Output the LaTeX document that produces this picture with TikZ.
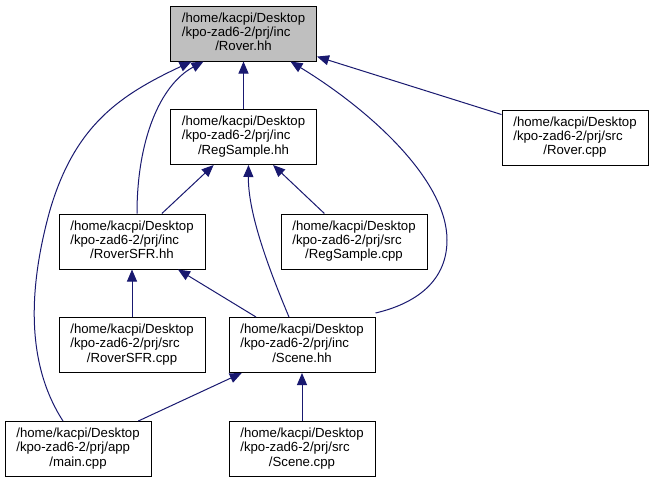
\documentclass[tikz,border=0pt]{standalone}
\usepackage{fontspec}
\setmainfont{Liberation Sans}
\usepackage{tikz}
\usetikzlibrary{arrows.meta}

\definecolor{deparrow}{HTML}{191970}
\definecolor{curfile}{HTML}{BFBFBF}

\newcommand{\filepath}[2]{\fontsize{13.2}{14.2}\selectfont
  \begin{tabular}{@{}l@{}}/home/kacpi/Desktop\\/kpo-zad6-2/prj/#1\\
  \multicolumn{1}{@{}c@{}}{/#2}\end{tabular}}

\tikzset{
  filebox/.style={draw=black,line width=1pt,fill=white,minimum width=146pt,
    minimum height=55pt,inner sep=0pt},
  dep/.style={draw=deparrow,line width=1pt,
    {Triangle[length=12pt,width=10pt]}-}
}

\begin{document}
\begin{tikzpicture}[x=1pt,y=-1pt]
\useasboundingbox[fill=white] (0,0) rectangle (653,483);
\node[filebox,fill=curfile] (roverh) at (243.5,33.5) {\filepath{inc}{Rover.hh}};
\node[filebox] (regh) at (243.5,137) {\filepath{inc}{RegSample.hh}};
\node[filebox] (roverc) at (575,137.5) {\filepath{src}{Rover.cpp}};
\node[filebox] (sfrh) at (132,241.5) {\filepath{inc}{RoverSFR.hh}};
\node[filebox] (regc) at (354,241.5) {\filepath{src}{RegSample.cpp}};
\node[filebox] (sfrc) at (132,345) {\filepath{src}{RoverSFR.cpp}};
\node[filebox] (sceneh) at (302,345) {\filepath{inc}{Scene.hh}};
\node[filebox] (mainc) at (78,449) {\filepath{app}{main.cpp}};
\node[filebox] (scenec) at (302,449) {\filepath{src}{Scene.cpp}};
% straight includes
\draw[dep] (roverh) -- (regh);
\draw[dep] (roverh) -- (roverc);
\draw[dep] (regh) -- (sfrh);
\draw[dep] (regh) -- (regc);
\draw[dep] (sfrh) -- (sfrc);
\draw[dep] (sfrh) -- (sceneh);
\draw[dep] (sceneh) -- (mainc);
\draw[dep] (sceneh) -- (scenec);
% curved includes
\draw[dep] ([xshift=-40pt]roverh.south) .. controls (160,85) and (137,140) .. ([xshift=5pt]sfrh.north);
\draw[dep] ([xshift=-52pt]roverh.south) .. controls (120,95) and (75,125) .. (50,210)
  .. controls (25,300) and (30,370) .. ([xshift=-15pt]mainc.north);
\draw[dep] ([xshift=47pt]roverh.south) .. controls (370,110) and (447,180) .. (447,240)
  .. controls (447,285) and (410,305) .. ([yshift=4pt]sceneh.north east);
\draw[dep] ([xshift=5pt]regh.south) .. controls (248,210) and (265,260) .. ([xshift=-13pt]sceneh.north);
\end{tikzpicture}
\end{document}
